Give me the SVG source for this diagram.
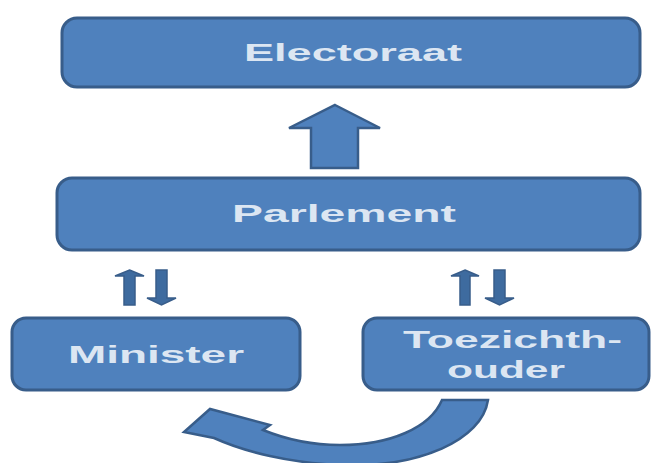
<svg xmlns="http://www.w3.org/2000/svg" width="651" height="463" viewBox="0 0 651 463">
  <style>
    .box { fill: #4F81BD; stroke: #385D8A; stroke-width: 3; }
    .arrow { fill: #4F81BD; stroke: #385D8A; stroke-width: 2.5; stroke-linejoin: miter; }
    .thin { fill: #3E6B9F; stroke: #385D8A; stroke-width: 1.5; }
    .label { font-family: "Liberation Sans", Arial, sans-serif; font-weight: bold; font-size: 23px; fill: #DCE6F2; text-anchor: start; }
  </style>
  <rect x="0" y="0" width="651" height="463" fill="#FFFFFF"/>

  <!-- nodes -->
  <g id="electoraat">
    <rect class="box" x="62" y="18" width="578" height="69" rx="15" ry="15"/>
    <text class="label" x="244" y="61" textLength="218" lengthAdjust="spacingAndGlyphs">Electoraat</text>
  </g>

  <g id="parlement">
    <rect class="box" x="57" y="178" width="583" height="72" rx="15" ry="15"/>
    <text class="label" x="232" y="222" textLength="224" lengthAdjust="spacingAndGlyphs">Parlement</text>
  </g>

  <g id="minister">
    <rect class="box" x="12" y="318" width="288" height="72" rx="14" ry="14"/>
    <text class="label" x="68" y="363" textLength="176" lengthAdjust="spacingAndGlyphs">Minister</text>
  </g>

  <g id="toezichthouder">
    <rect class="box" x="363" y="318" width="286" height="72" rx="14" ry="14"/>
    <text class="label" x="403" y="348" textLength="219" lengthAdjust="spacingAndGlyphs">Toezichth-</text>
    <text class="label" x="447" y="378" textLength="118" lengthAdjust="spacingAndGlyphs">ouder</text>
  </g>

  <!-- connectors -->
  <g id="connectors">
    <!-- Parlement to Electoraat -->
    <polygon class="arrow" points="335,105 380,128 358,128 358,168 311,168 311,128 289,128"/>

    <!-- Minister and Parlement, both ways -->
    <polygon class="thin" points="129.5,270 144,276 135,276 135,305 124,305 124,276 115,276"/>
    <polygon class="thin" points="156,270 167,270 167,298 176,298 161.5,305 147,298 156,298"/>

    <!-- Toezichthouder and Parlement, both ways -->
    <polygon class="thin" points="465,270 479,276 470,276 470,305 460,305 460,276 451,276"/>
    <polygon class="thin" points="494,270 505,270 505,298 514,298 499.5,305 485,298 494,298"/>

    <!-- curved arrow from Toezichthouder back to Minister -->
    <path class="arrow" d="M 442,400 L 488,400 C 482,440 420,468 340,465 C 290,463 245,452 214,438 L 184,432 L 210,409 L 270,425 L 263,430 C 290,441 315,445 340,445 C 390,445 430,428 442,400 Z"/>
  </g>
</svg>
